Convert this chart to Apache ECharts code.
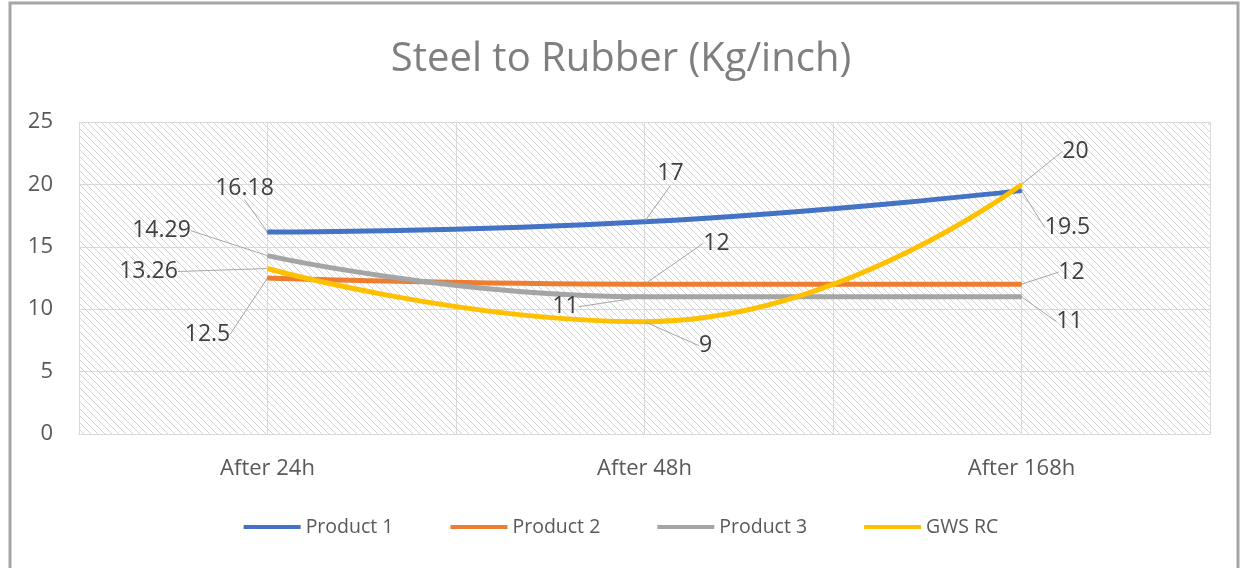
<!DOCTYPE html>
<html lang="en">
<head>
    <meta charset="UTF-8">
    <title>Steel to Rubber (Kg/inch)</title>
    <script src="https://cdn.jsdelivr.net/npm/echarts@6/dist/echarts.min.js"></script>
    <style>
        body { margin: 0; background: #fff; }
        #chart { width: 1242px; height: 568px; }
    </style>
</head>
<body>
    <div id="chart"></div>
    <script>
        // data
        const categories = ['After 24h', 'After 48h', 'After 168h'];
        const seriesNames = ['Product 1', 'Product 2', 'Product 3', 'GWS RC'];
        const product1 = [16.18, 17, 19.5];
        const product2 = [12.5, 12, 12];
        const product3 = [14.29, 11, 11];
        const gwsRc = [13.26, 9, 20];
        const yTicks = { min: 0, max: 25, interval: 5 };

        const colors = ['#4472C4', '#ED7D31', '#A5A5A5', '#FFC000'];

        // label offsets (px) from each point, like the Excel callouts
        const labelOffsets = [
            [[-23, -44], [26, -48], [46, 37]],
            [[-60, 56], [72, -41], [50, -12]],
            [[-106, -25], [-79, 10], [48, 25]],
            [[-119, 3], [61, 24], [54, -33]]
        ];

        // diagonal hatch for the plot area
        const tile = document.createElement('canvas');
        tile.width = 7; tile.height = 7;
        const tc = tile.getContext('2d');
        tc.strokeStyle = '#d4d4d4';
        tc.lineWidth = 1;
        [-7, 0, 7].forEach(o => {
            tc.beginPath();
            tc.moveTo(o - 1, -1);
            tc.lineTo(o + 8, 8);
            tc.stroke();
        });

        const chart = echarts.init(document.getElementById('chart'));
        const font = "'Open Sans', sans-serif";

        const allData = [product1, product2, product3, gwsRc];
        const series = allData.map((vals, si) => ({
            name: seriesNames[si],
            type: 'line',
            data: vals,
            smooth: 0.5,
            symbol: 'circle',
            symbolSize: 2,
            showSymbol: true,
            lineStyle: { width: 5, color: colors[si] },
            itemStyle: { color: colors[si] },
            label: {
                show: true,
                fontFamily: font,
                fontSize: 23,
                color: '#404040'
            },
            labelLine: {
                show: true,
                lineStyle: { color: '#a6a6a6', width: 1 }
            },
            labelLayout: function (p) {
                const off = labelOffsets[si][p.dataIndex];
                return {
                    x: p.rect.x + p.rect.width / 2 + off[0],
                    y: p.rect.y + p.rect.height / 2 + off[1],
                    align: 'center',
                    verticalAlign: 'middle'
                };
            },
            emphasis: { disabled: true }
        }));

        chart.setOption({
            animation: false,
            title: {
                text: 'Steel to Rubber (Kg/inch)',
                left: 'center',
                top: 35,
                textStyle: { fontFamily: font, fontSize: 40, fontWeight: 'normal', color: '#7f7f7f' }
            },
            graphic: [{
                type: 'rect',
                shape: { x: 10, y: 3, width: 1228, height: 600 },
                style: { fill: 'none', stroke: '#a6a6a6', lineWidth: 3 },
                silent: true
            }],
            legend: {
                data: seriesNames,
                bottom: 26,
                left: 'center',
                icon: 'rect',
                itemWidth: 57,
                itemHeight: 4,
                itemGap: 57,
                textStyle: { fontFamily: font, fontSize: 19.5, color: '#595959' }
            },
            grid: {
                left: 79, right: 32, top: 122, bottom: 134,
                show: true,
                borderWidth: 0,
                backgroundColor: { image: tile, repeat: 'repeat' }
            },
            xAxis: [{
                type: 'category',
                data: categories,
                boundaryGap: true,
                axisLine: { lineStyle: { color: '#d9d9d9' } },
                axisTick: { show: false },
                axisLabel: { margin: 24, fontFamily: font, fontSize: 22, color: '#595959' },
                splitLine: { show: false }
            }, {
                // hidden helper axis that draws the vertical grid lines
                type: 'value',
                min: -0.5, max: 2.5, interval: 0.5,
                position: 'bottom',
                axisLine: { show: false },
                axisTick: { show: false },
                axisLabel: { show: false },
                splitLine: { show: true, lineStyle: { color: '#d9d9d9' } }
            }],
            yAxis: {
                type: 'value',
                min: yTicks.min, max: yTicks.max, interval: yTicks.interval,
                axisLine: { show: false },
                axisTick: { show: false },
                axisLabel: { margin: 26, fontFamily: font, fontSize: 22, color: '#595959' },
                splitLine: { lineStyle: { color: '#d9d9d9' } }
            },
            series: series
        });
    </script>
</body>
</html>
